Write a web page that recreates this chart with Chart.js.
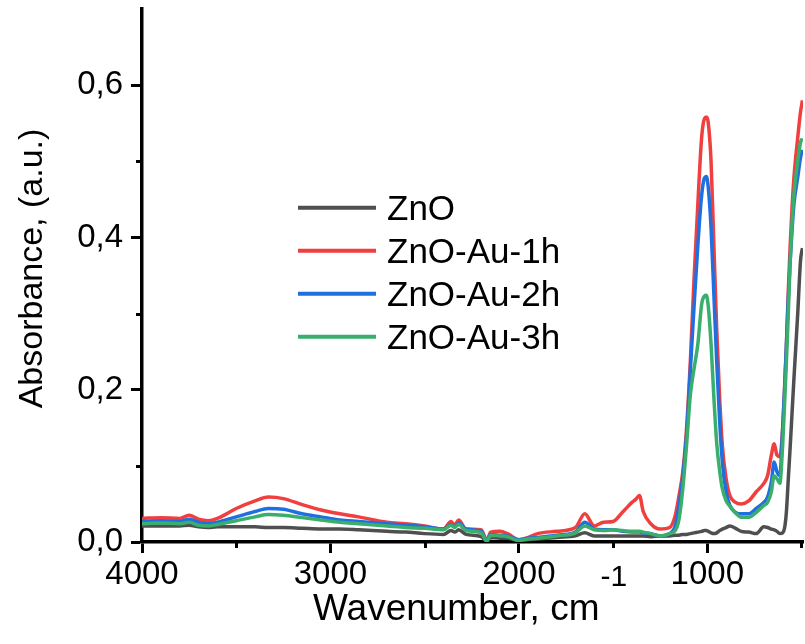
<!DOCTYPE html>
<html><head><meta charset="utf-8">
<script src="https://cdn.jsdelivr.net/npm/chart.js@4.4.1/dist/chart.umd.min.js"></script>
<style>html,body{margin:0;padding:0;background:#fff;} #wrap{width:805px;height:644px;}</style>
</head><body><div id="wrap"><canvas id="c" width="805" height="644"></canvas></div>
<script>
// ---- data ----
const wavenumbers = [4000,3900,3800,3750,3700,3650,3600,3500,3400,3330,3250,3150,3050,2950,2850,2700,2600,2500,2400,2360,2340,2320,2280,2200,2170,2150,2100,2060,2000,1950,1900,1800,1700,1650,1600,1550,1500,1450,1400,1380,1360,1340,1300,1250,1200,1170,1150,1130,1110,1090,1070,1050,1030,1015,1005,995,980,965,950,935,920,900,880,850,820,780,740,700,680,660,645,630,615,600,590,580,570,560,550,540,520,505,495];
const znoValues = [0.021,0.021,0.021,0.022,0.020,0.019,0.020,0.020,0.020,0.019,0.019,0.018,0.017,0.017,0.016,0.014,0.013,0.011,0.010,0.015,0.013,0.016,0.010,0.007,0.001,0.006,0.005,0.005,0.002,0.003,0.004,0.006,0.008,0.012,0.008,0.008,0.008,0.008,0.008,0.008,0.008,0.008,0.007,0.008,0.008,0.009,0.009,0.010,0.010,0.011,0.012,0.013,0.014,0.015,0.015,0.014,0.012,0.011,0.012,0.015,0.017,0.019,0.021,0.018,0.014,0.013,0.011,0.020,0.019,0.017,0.016,0.014,0.011,0.012,0.018,0.040,0.083,0.125,0.170,0.215,0.300,0.370,0.386];
const au1hValues = [0.031,0.032,0.031,0.035,0.030,0.028,0.031,0.044,0.054,0.059,0.057,0.049,0.042,0.037,0.033,0.026,0.024,0.021,0.017,0.027,0.022,0.029,0.017,0.016,0.002,0.013,0.014,0.011,0.003,0.006,0.011,0.014,0.019,0.037,0.021,0.026,0.027,0.039,0.052,0.056,0.061,0.040,0.024,0.017,0.019,0.035,0.061,0.092,0.149,0.237,0.347,0.444,0.531,0.556,0.558,0.551,0.500,0.390,0.280,0.193,0.127,0.083,0.061,0.052,0.050,0.054,0.066,0.077,0.087,0.114,0.129,0.114,0.112,0.149,0.200,0.259,0.330,0.390,0.440,0.479,0.531,0.565,0.580];
const au2hValues = [0.027,0.028,0.027,0.030,0.026,0.024,0.026,0.033,0.040,0.044,0.043,0.037,0.033,0.029,0.027,0.024,0.022,0.020,0.017,0.023,0.020,0.025,0.017,0.014,0.002,0.010,0.009,0.008,0.003,0.005,0.006,0.009,0.013,0.026,0.017,0.016,0.016,0.014,0.013,0.013,0.013,0.012,0.011,0.008,0.011,0.021,0.048,0.085,0.140,0.225,0.310,0.390,0.455,0.478,0.480,0.466,0.413,0.325,0.237,0.162,0.105,0.066,0.048,0.039,0.037,0.037,0.044,0.052,0.059,0.079,0.105,0.092,0.087,0.149,0.200,0.259,0.320,0.369,0.410,0.444,0.479,0.505,0.515];
const au3hValues = [0.024,0.025,0.024,0.026,0.022,0.021,0.023,0.028,0.033,0.036,0.035,0.032,0.029,0.026,0.024,0.021,0.019,0.018,0.016,0.022,0.019,0.023,0.015,0.012,0.001,0.009,0.008,0.007,0.002,0.004,0.005,0.008,0.012,0.021,0.016,0.015,0.016,0.015,0.014,0.014,0.014,0.013,0.011,0.008,0.011,0.015,0.030,0.070,0.127,0.193,0.228,0.260,0.312,0.323,0.324,0.310,0.260,0.190,0.130,0.095,0.070,0.054,0.047,0.038,0.0325,0.0325,0.039,0.048,0.052,0.066,0.087,0.083,0.077,0.127,0.180,0.237,0.300,0.369,0.420,0.457,0.500,0.525,0.530];
const seriesNames = ['ZnO','ZnO-Au-1h','ZnO-Au-2h','ZnO-Au-3h'];
const xTickValues = [4000,3000,2000,1000];
const xTickLabels = ['4000','3000','2000','1000'];
const xMinorTicks = [3500,2500,1500,500];
const yTickValues = [0,0.2,0.4,0.6];
const yTickLabels = ['0,0','0,2','0,4','0,6'];
const yMinorTicks = [0.1,0.3,0.5];
const xTitle = 'Wavenumber, cm';
const xTitleSup = '-1';
const yTitle = 'Absorbance, (a.u.)';

// ---- style ----
const FONT = '"Liberation Sans", Arial, Helvetica, sans-serif';
const colors = ['#4f4f4f','#ef3f3f','#1f6fe0','#3aae6c'];
const drawOrder = [4,3,2,1];
const allSeries = [znoValues, au1hValues, au2hValues, au3hValues];

const datasets = allSeries.map((vals,i)=>({
  label: seriesNames[i],
  data: wavenumbers.map((w,j)=>({x:w, y:vals[j]})),
  borderColor: colors[i],
  backgroundColor: colors[i],
  borderWidth: 3.5,
  pointRadius: 0,
  fill: false,
  cubicInterpolationMode: 'monotone',
  order: drawOrder[i]
}));

const decor = {
  id: 'decor',
  afterDraw(chart){
    const ctx = chart.ctx, xs = chart.scales.x, ys = chart.scales.y, a = chart.chartArea;
    ctx.save();
    ctx.strokeStyle = '#000'; ctx.lineWidth = 3;
    xMinorTicks.forEach(v=>{ const p = Math.round(xs.getPixelForValue(v)) + 0.5; ctx.beginPath(); ctx.moveTo(p, a.bottom); ctx.lineTo(p, a.bottom + 6); ctx.stroke(); });
    yMinorTicks.forEach(v=>{ const p = Math.round(ys.getPixelForValue(v)) + 0.5; ctx.beginPath(); ctx.moveTo(a.left, p); ctx.lineTo(a.left - 6, p); ctx.stroke(); });
    ctx.fillStyle = '#000';
    // x title
    ctx.textBaseline = 'alphabetic'; ctx.textAlign = 'left';
    ctx.font = '37px ' + FONT;
    ctx.fillText(xTitle, 313, 620);
    const w = ctx.measureText(xTitle).width;
    ctx.font = '30px ' + FONT;
    ctx.fillText(xTitleSup, 313 + w + 1, 586);
    // y title
    ctx.save();
    ctx.translate(41.7, 268.5);
    ctx.rotate(-Math.PI/2);
    ctx.font = '34px ' + FONT;
    ctx.textAlign = 'center';
    ctx.fillText(yTitle, 0, 0);
    ctx.restore();
    // legend
    chart.data.datasets.forEach((ds,i)=>{
      const y = 207.7 + i*43;
      ctx.strokeStyle = ds.borderColor; ctx.lineWidth = 4;
      ctx.beginPath(); ctx.moveTo(298, y); ctx.lineTo(376, y); ctx.stroke();
      ctx.fillStyle = '#000'; ctx.font = '35px ' + FONT; ctx.textAlign = 'left';
      ctx.fillText(ds.label, 387, y + 12.5);
    });
    ctx.restore();
  }
};

new Chart(document.getElementById('c'), {
  type: 'line',
  data: { datasets },
  options: {
    responsive: false,
    animation: false,
    devicePixelRatio: 1,
    layout: { padding: { top: 9, right: 2, left: 0, bottom: 0 } },
    plugins: { legend: { display: false }, tooltip: { enabled: false } },
    scales: {
      x: {
        type: 'linear', reverse: true, min: 492, max: 4000,
        afterBuildTicks: s => { s.ticks = xTickValues.map(v=>({value:v})); },
        afterFit: s => { s.height = 102; },
        ticks: { autoSkip: false, maxRotation: 0, padding: 2, color: '#000', font: { family: FONT, size: 33 },
          callback: (v) => { const i = xTickValues.indexOf(v); return i >= 0 ? xTickLabels[i] : ''; } },
        grid: { display: true, drawOnChartArea: false, drawTicks: true, tickLength: 11, tickWidth: 3, tickColor: '#000' },
        border: { display: true, color: '#000', width: 3.5 }
      },
      y: {
        type: 'linear', min: 0, max: 0.7,
        afterBuildTicks: s => { s.ticks = yTickValues.map(v=>({value:v})); },
        afterFit: s => { s.width = 142; s.paddingTop = 0; s.paddingBottom = 0; },
        ticks: { autoSkip: false, padding: 8, color: '#000', font: { family: FONT, size: 33 },
          callback: (v) => { const i = yTickValues.indexOf(v); return i >= 0 ? yTickLabels[i] : ''; } },
        grid: { display: true, drawOnChartArea: false, drawTicks: true, tickLength: 11, tickWidth: 3, tickColor: '#000' },
        border: { display: true, color: '#000', width: 3.5 }
      }
    }
  },
  plugins: [decor]
});
</script>
</body></html>
